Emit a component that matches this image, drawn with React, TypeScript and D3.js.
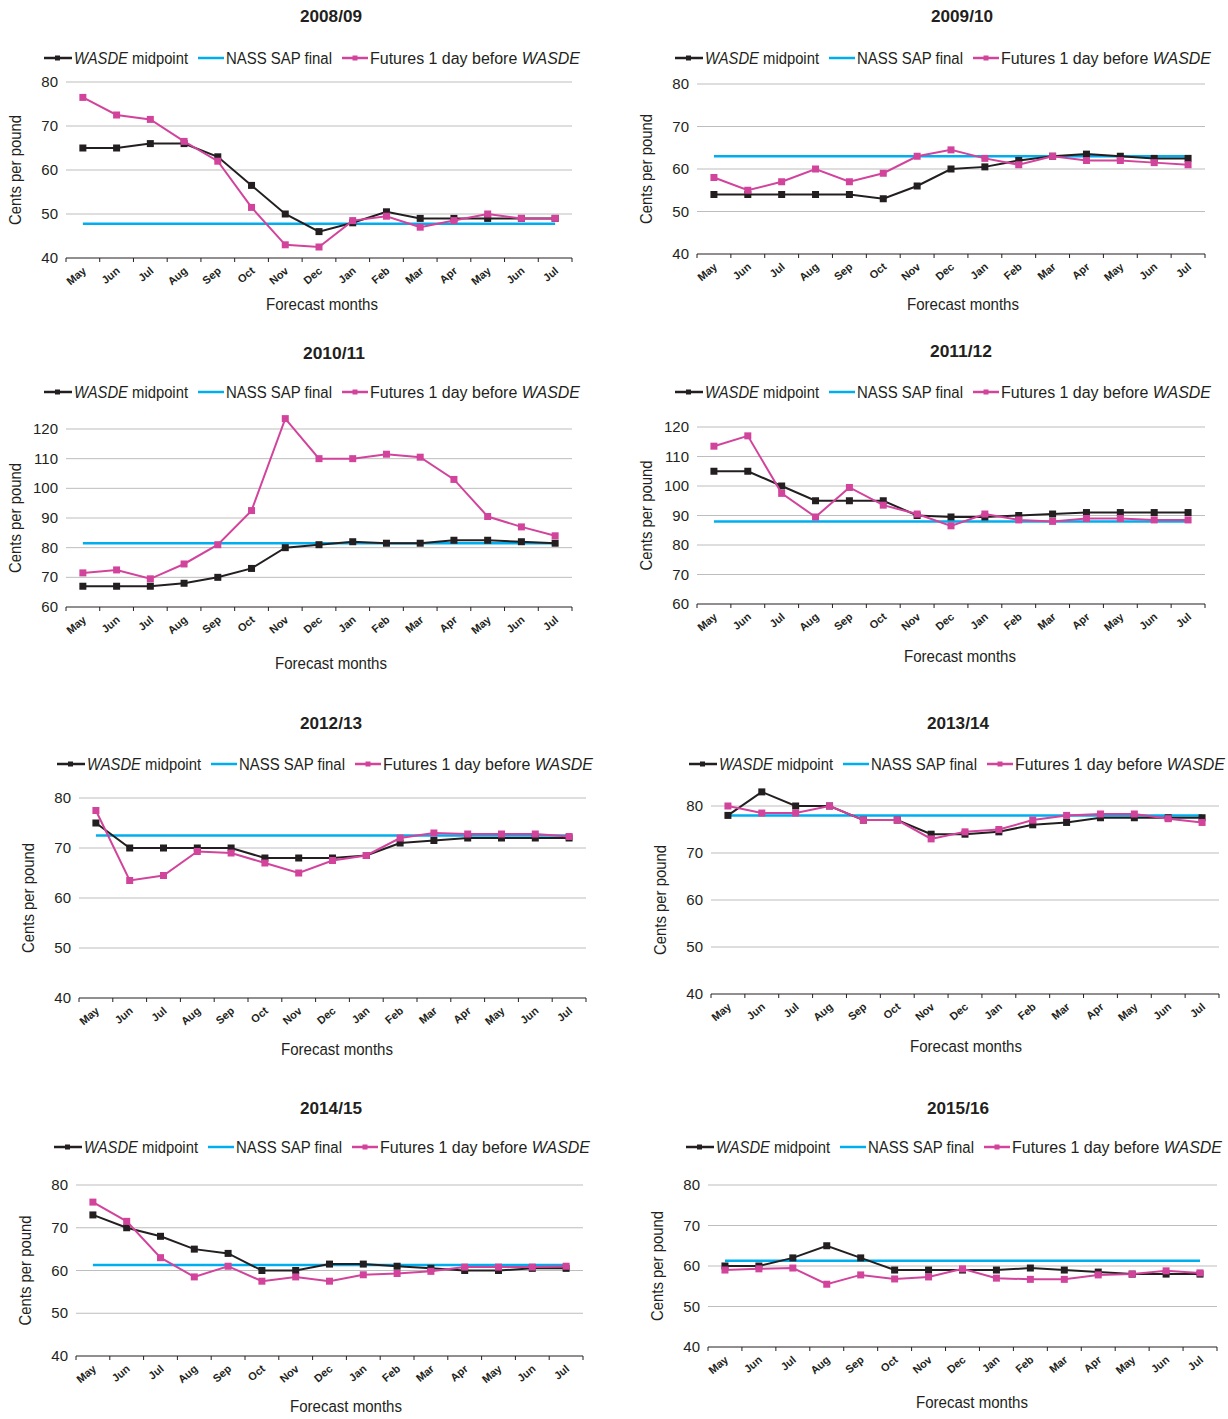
import React from "react";
import * as d3 from "d3";

const months = ["May","Jun","Jul","Aug","Sep","Oct","Nov","Dec","Jan","Feb","Mar","Apr","May","Jun","Jul"];
const titles = ["2008/09","2009/10","2010/11","2011/12","2012/13","2013/14","2014/15","2015/16"];
const wasde = [
  [65,65,66,66,63,56.5,50,46,48,50.5,49,49,49,49,49],
  [54,54,54,54,54,53,56,60,60.5,62,63,63.5,63,62.5,62.5],
  [67,67,67,68,70,73,80,81,82,81.5,81.5,82.5,82.5,82,81.5],
  [105,105,100,95,95,95,90,89.5,89.5,90,90.5,91,91,91,91],
  [75,70,70,70,70,68,68,68,68.5,71,71.5,72,72,72,72],
  [78,83,80,80,77,77,74,74,74.5,76,76.5,77.5,77.5,77.5,77.5],
  [73,70,68,65,64,60,60,61.5,61.5,61,60.5,60,60,60.5,60.5],
  [60,60,62,65,62,59,59,59,59,59.5,59,58.5,58,58,58],
];
const futures = [
  [76.5,72.5,71.5,66.5,62,51.5,43,42.5,48.5,49.5,47,48.5,50,49,49],
  [58,55,57,60,57,59,63,64.5,62.5,61,63,62,62,61.5,61],
  [71.5,72.5,69.5,74.5,81,92.5,123.5,110,110,111.5,110.5,103,90.5,87,84],
  [113.5,117,97.5,89.5,99.5,93.5,90.5,86.5,90.5,88.5,88,89,89,88.5,88.5],
  [77.5,63.5,64.5,69.3,69,67,65,67.5,68.5,72,73,72.8,72.8,72.8,72.3],
  [80,78.5,78.5,80,77,77,73,74.5,75,77,78,78.3,78.3,77.3,76.5],
  [76,71.5,63,58.5,61,57.5,58.5,57.5,59,59.3,59.8,60.8,60.8,60.8,61],
  [59,59.3,59.5,55.5,57.8,56.8,57.3,59.3,57,56.7,56.7,57.8,58,58.8,58.3],
];
const nass = [47.8,63,81.5,88,72.5,78,61.3,61.3];
const yDomains = [[40,80],[40,80],[60,120],[60,120],[40,80],[40,80],[40,80],[40,80]];

const layouts = [
  {l:66,r:572,t:82,b:258,ty:16,tx:331,ly:58,xl:304,xx:322},
  {l:697,r:1205,t:84,b:254,ty:16,tx:962,ly:58,xl:304,xx:963},
  {l:66,r:572,t:429,b:607,ty:353,tx:334,ly:392,xl:663,xx:331},
  {l:697,r:1205,t:427,b:604,ty:351,tx:961,ly:392,xl:656,xx:960},
  {l:79,r:586,t:798,b:998,ty:723,tx:331,ly:764,xl:1049,xx:337},
  {l:711,r:1219,t:806,b:994,ty:723,tx:958,ly:764,xl:1046,xx:966},
  {l:76,r:583,t:1185,b:1356,ty:1108,tx:331,ly:1147,xl:1406,xx:346},
  {l:708,r:1217,t:1185,b:1347,ty:1108,tx:958,ly:1147,xl:1402,xx:972},
];

const BLACK = "#231f20", CYAN = "#00aeef", MAG = "#d2449c";
const FONT = "'Liberation Sans', Arial, sans-serif";
const ADJ = "spacingAndGlyphs";

function Panel({ i }: { i: number }) {
  const L = layouts[i];
  const y = d3.scaleLinear().domain(yDomains[i]).range([L.b, L.t]);
  const band = (L.r - L.l) / months.length;
  const x = (k: number) => L.l + band * (k + 0.5);
  const ticks = d3.range(yDomains[i][0], yDomains[i][1] + 0.1, 10);
  const line = d3.line<number>().x((_, k) => x(k)).y(d => y(d));
  const lx = L.l - 22;
  return (
    <g fontFamily={FONT}>
      <text x={L.tx} y={L.ty + 6} textAnchor="middle" fontSize={17} fontWeight="bold" fill={BLACK} textLength={62} lengthAdjust={ADJ}>{titles[i]}</text>
      <g fontSize={16} fill={BLACK}>
        <line x1={lx} x2={lx + 28} y1={L.ly} y2={L.ly} stroke={BLACK} strokeWidth={2.5} />
        <rect x={lx + 11} y={L.ly - 2.5} width={5} height={5} fill={BLACK} />
        <text x={lx + 30} y={L.ly + 6} textLength={114} lengthAdjust={ADJ}><tspan fontStyle="italic">WASDE</tspan> midpoint</text>
        <line x1={lx + 154} x2={lx + 180} y1={L.ly} y2={L.ly} stroke={CYAN} strokeWidth={2.5} />
        <text x={lx + 182} y={L.ly + 6} textLength={106} lengthAdjust={ADJ}>NASS SAP final</text>
        <line x1={lx + 298} x2={lx + 324} y1={L.ly} y2={L.ly} stroke={MAG} strokeWidth={2.5} />
        <rect x={lx + 308.5} y={L.ly - 2.5} width={5} height={5} fill={MAG} />
        <text x={lx + 326} y={L.ly + 6} textLength={210} lengthAdjust={ADJ}>Futures 1 day before <tspan fontStyle="italic">WASDE</tspan></text>
      </g>
      {ticks.map(t => (
        <g key={t}>
          {t !== yDomains[i][0] && <line x1={L.l} x2={L.r} y1={y(t)} y2={y(t)} stroke="#bdbdbd" strokeWidth={1} />}
          <text x={L.l - 8} y={y(t) + 5} textAnchor="end" fontSize={15} fill={BLACK}>{t}</text>
        </g>
      ))}
      <line x1={L.l} x2={L.r} y1={L.b} y2={L.b} stroke={BLACK} strokeWidth={1} />
      {d3.range(months.length + 1).map(k => (
        <line key={k} x1={L.l + band * k} x2={L.l + band * k} y1={L.b} y2={L.b + 4} stroke={BLACK} />
      ))}
      {months.map((m, k) => (
        <text key={k} transform={`translate(${x(k) + 4},${L.b + 14}) rotate(-40)`} textAnchor="end" fontSize={11} fontWeight="bold" fill={BLACK}>{m}</text>
      ))}
      <text x={L.xx} y={L.xl + 6} textAnchor="middle" fontSize={16} fill={BLACK} textLength={112} lengthAdjust={ADJ}>Forecast months</text>
      <text transform={`translate(${L.l - 45},${(L.t + L.b) / 2}) rotate(-90)`} textAnchor="middle" fontSize={16} fill={BLACK} textLength={110} lengthAdjust={ADJ}>Cents per pound</text>
      <line x1={x(0)} x2={x(14)} y1={y(nass[i])} y2={y(nass[i])} stroke={CYAN} strokeWidth={2.5} />
      <path d={line(wasde[i]) || ""} fill="none" stroke={BLACK} strokeWidth={2} />
      {wasde[i].map((v, k) => <rect key={k} x={x(k) - 3.5} y={y(v) - 3.5} width={7} height={7} fill={BLACK} />)}
      <path d={line(futures[i]) || ""} fill="none" stroke={MAG} strokeWidth={2} />
      {futures[i].map((v, k) => <rect key={k} x={x(k) - 3.5} y={y(v) - 3.5} width={7} height={7} fill={MAG} />)}
    </g>
  );
}

export default function App() {
  return (
    <svg width={1228} height={1419} style={{ position: "absolute", left: 0, top: 0, background: "#fff" }}>
      {titles.map((_, i) => <Panel key={i} i={i} />)}
    </svg>
  );
}
